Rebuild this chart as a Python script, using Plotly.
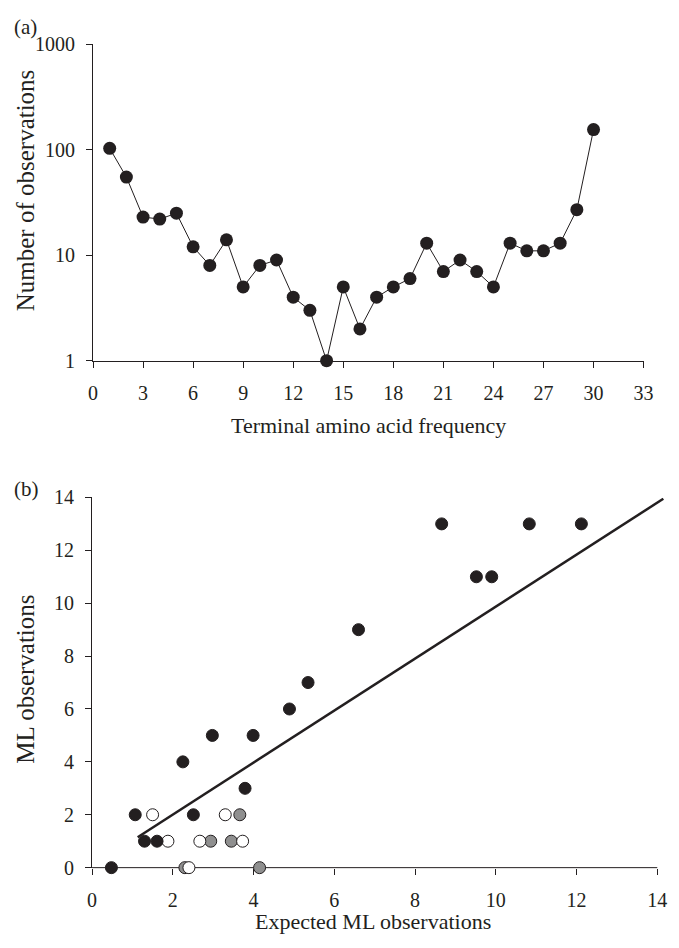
import plotly.graph_objects as go

# Panel (a): terminal amino acid frequency vs number of observations
freq = list(range(1, 31))
counts = [103, 55, 23, 22, 25, 12, 8, 14, 5, 8, 9, 4, 3, 1, 5, 2, 4, 5, 6, 13,
          7, 9, 7, 5, 13, 11, 11, 13, 27, 155]
a_xticks = list(range(0, 34, 3))
a_yticks = [1, 10, 100, 1000]

# Panel (b): expected vs observed ML observations
black_x = [0.48, 1.07, 1.30, 1.61, 2.25, 2.51, 2.98, 3.79, 3.99, 4.89, 5.35, 6.60,
           8.66, 9.52, 9.90, 10.83, 12.12]
black_y = [0, 2, 1, 1, 4, 2, 5, 3, 5, 6, 7, 9, 13, 11, 11, 13, 13]
open_x = [1.50, 1.88, 2.67, 3.30, 3.73, 2.40]
open_y = [2, 1, 1, 2, 1, 0]
gray_x = [2.94, 3.45, 3.66, 2.30, 4.15]
gray_y = [1, 1, 2, 0, 0]
fit_x = [1.13, 14.15]
fit_y = [1.15, 13.95]
b_ticks = list(range(0, 15, 2))
b_axis_max = 14
b_range_max = 14.2

INK = "#231f20"
FONT = "Liberation Serif"
W, H = 679, 948

def px_x(p):
    return p / W

def px_y(p):
    return 1 - p / H

fig = go.Figure()

fig.add_trace(go.Scatter(
    x=freq, y=counts, mode="lines+markers",
    line=dict(color=INK, width=1),
    marker=dict(size=13, color=INK),
    cliponaxis=False, xaxis="x", yaxis="y", showlegend=False))

fig.add_trace(go.Scatter(
    x=fit_x, y=fit_y, mode="lines",
    line=dict(color=INK, width=2.5),
    xaxis="x2", yaxis="y2", showlegend=False))
fig.add_trace(go.Scatter(
    x=gray_x, y=gray_y, mode="markers",
    marker=dict(size=12, color="#8f8f8f", line=dict(color=INK, width=1)),
    cliponaxis=False, xaxis="x2", yaxis="y2", showlegend=False))
fig.add_trace(go.Scatter(
    x=open_x, y=open_y, mode="markers",
    marker=dict(size=12, color="white", line=dict(color=INK, width=1)),
    cliponaxis=False, xaxis="x2", yaxis="y2", showlegend=False))
fig.add_trace(go.Scatter(
    x=black_x, y=black_y, mode="markers",
    marker=dict(size=12, color=INK, line=dict(color=INK, width=1)),
    cliponaxis=False, xaxis="x2", yaxis="y2", showlegend=False))

axis_common = dict(
    showline=True, linecolor=INK, linewidth=1,
    ticks="outside", ticklen=6, tickwidth=1, tickcolor=INK,
    showgrid=False, zeroline=False,
    tickfont=dict(family=FONT, size=20, color=INK),
)
xa = dict(ticklabelstandoff=8, **axis_common)
ya = dict(ticklabelstandoff=7, **axis_common)
xa_b = dict(xa)
xa_b["showline"] = False

# panel (b) x-axis: 0..14 spans px 89..667; the range runs a little past 14
b_left, b_right14 = 89, 667
b_right = b_left + (b_right14 - b_left) * b_range_max / b_axis_max

fig.update_layout(
    width=W, height=H,
    margin=dict(l=0, r=0, t=0, b=0),
    paper_bgcolor="white", plot_bgcolor="white",
    hovermode=False,
    xaxis=dict(domain=[px_x(90), px_x(653)], range=[0, 33], tickvals=a_xticks,
               anchor="y", **xa),
    yaxis=dict(domain=[px_y(358), px_y(34)], type="log", range=[0, 3],
               tickvals=a_yticks, anchor="x", **ya),
    xaxis2=dict(domain=[px_x(b_left), px_x(b_right)], range=[0, b_range_max],
                tickvals=b_ticks, anchor="y2", **xa_b),
    yaxis2=dict(domain=[px_y(877), px_y(498)], range=[0, 14], tickvals=b_ticks,
                anchor="x2", **ya),
)

# bottom axis line of panel (b), stopping at the last tick
fig.add_shape(type="line", xref="x2 domain", yref="y2 domain",
              x0=0, x1=b_axis_max / b_range_max, y0=0, y1=0,
              line=dict(color=INK, width=1), layer="below")

def note(text, x, y, size=20, angle=0, xanchor="center"):
    fig.add_annotation(text=text, x=px_x(x), y=px_y(y), xref="paper", yref="paper",
                       showarrow=False, textangle=angle, xanchor=xanchor, yanchor="middle",
                       font=dict(family=FONT, size=size, color=INK))

note("(a)", 7, 16, size=21, xanchor="left")
note("(b)", 7, 489, size=21, xanchor="left")
note("Number of observations", 21, 184, size=25, angle=-90)
note("ML observations", 21, 684, size=25, angle=-90)
note("Terminal amino acid frequency", 372, 424, size=22)
note("Expected ML observations", 376, 932, size=22)

fig.write_html("out.html", config={"displayModeBar": False},
               post_script="document.body.style.margin='0px';")
